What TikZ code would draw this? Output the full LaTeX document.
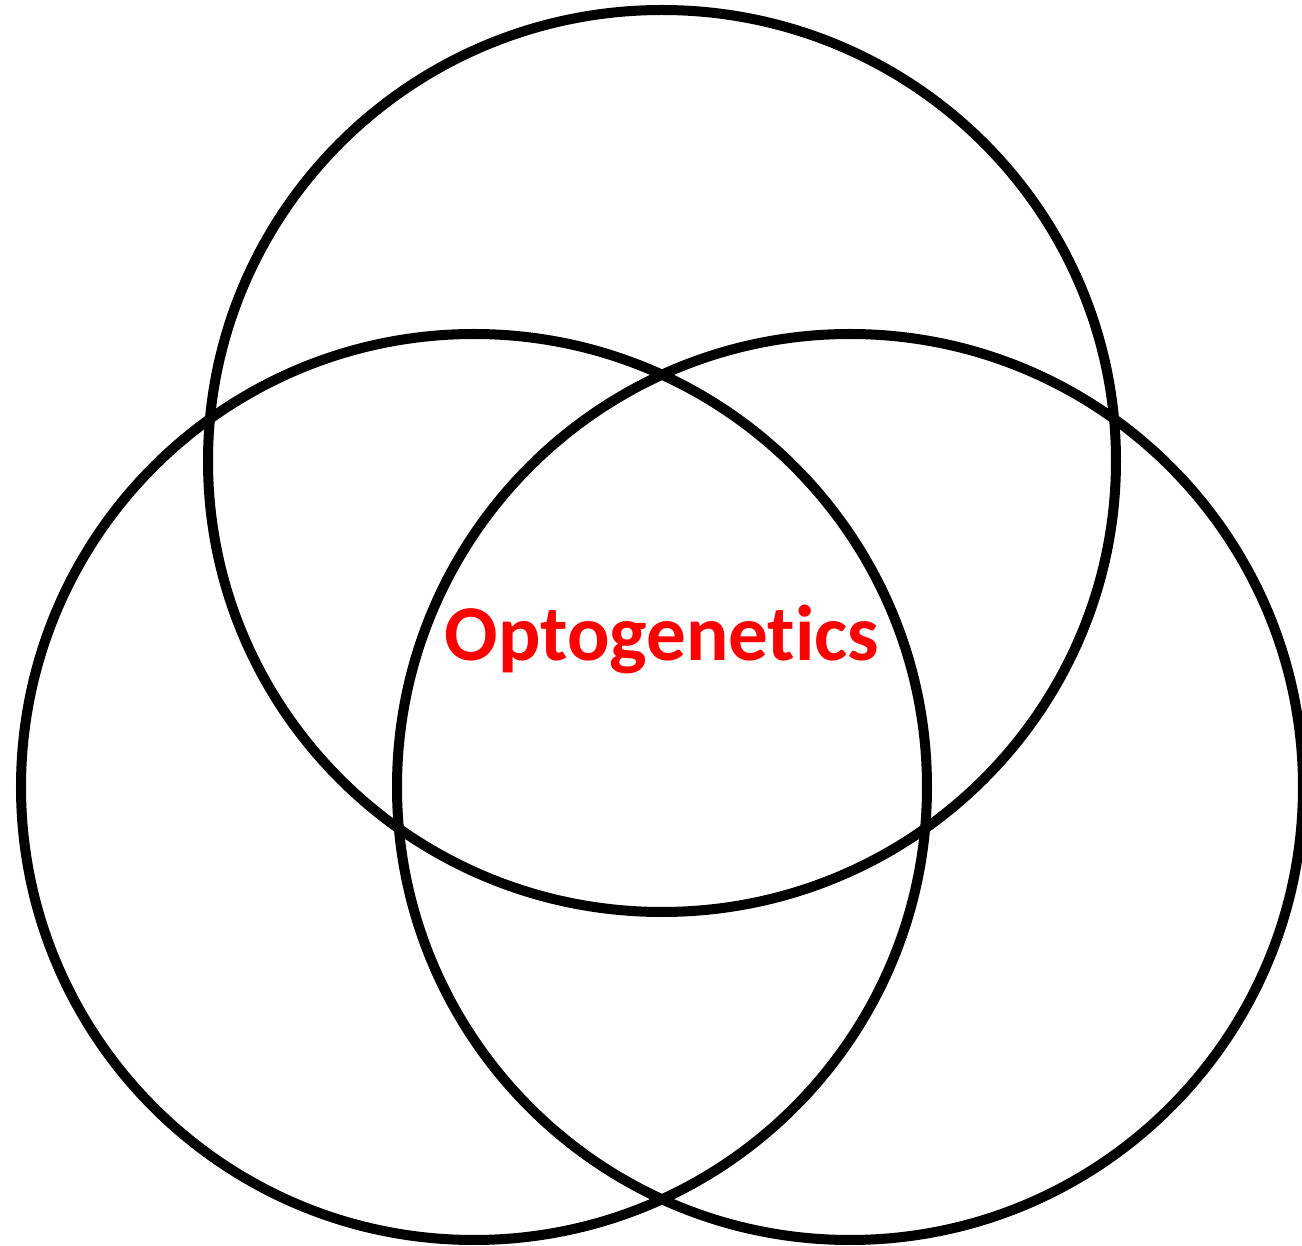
\documentclass[tikz,border=0pt]{standalone}
\usepackage{fontspec}
\setmainfont[Ligatures={NoCommon,NoRequired,NoContextual}]{Carlito}
\begin{document}
\begin{tikzpicture}[x=0.01cm,y=-0.01cm,
  venn/.style={draw=black,line width=0.1cm}]
\clip (0,0) rectangle (1302,1246);
\fill[white] (0,0) rectangle (1302,1246);
\draw[venn] (662,461) ellipse [x radius=454, y radius=451];
\draw[venn] (474,787) ellipse [x radius=453, y radius=453];
\draw[venn] (850,787) ellipse [x radius=453, y radius=453];
\node[text=red,font=\bfseries\fontsize{22.5}{27}\selectfont] (lbl) at (662,639) {Optogenetics};
\end{tikzpicture}
\end{document}
